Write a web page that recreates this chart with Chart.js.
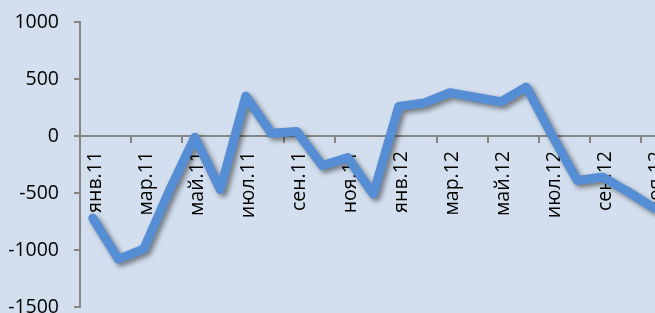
<!DOCTYPE html>
<html>
<head>
<meta charset="utf-8">
<script src="https://cdn.jsdelivr.net/npm/chart.js"></script>
<style>
  html, body { margin: 0; padding: 0; background: #d3dfee; overflow: hidden; }
  #wrap { width: 680px; height: 330px; }
</style>
</head>
<body>
<div id="wrap"><canvas id="chart" width="680" height="330"></canvas></div>
<script>
// months Jan 2011 .. Nov 2012 (the reference is cropped on the right)
const months = [
  'янв.11', 'фев.11', 'мар.11', 'апр.11', 'май.11', 'июн.11',
  'июл.11', 'авг.11', 'сен.11', 'окт.11', 'ноя.11', 'дек.11',
  'янв.12', 'фев.12', 'мар.12', 'апр.12', 'май.12', 'июн.12',
  'июл.12', 'авг.12', 'сен.12', 'окт.12', 'ноя.12'
];
const values = [
  -720, -1080, -990, -480, -10, -470,
  350, 25, 40, -260, -190, -510,
  260, 290, 380, 340, 300, 430,
  10, -390, -360, -490, -630
];
const yTicks = [-1500, -1000, -500, 0, 500, 1000];

const axisGrey = '#868686';
const lineBlue = '#558ed5';
const font = { family: 'Open Sans', size: 19.5 };

// soft drop shadow under the line, like the Excel original
const shadowPlugin = {
  id: 'lineShadow',
  beforeDatasetDraw(chart) {
    const ctx = chart.ctx;
    ctx.save();
    ctx.shadowColor = 'rgba(0,0,0,0.45)';
    ctx.shadowBlur = 5;
    ctx.shadowOffsetX = 3;
    ctx.shadowOffsetY = 3;
  },
  afterDatasetDraw(chart) {
    chart.ctx.restore();
  }
};

new Chart(document.getElementById('chart'), {
  type: 'line',
  data: {
    labels: months,
    datasets: [{
      data: values,
      borderColor: lineBlue,
      borderWidth: 9,
      borderJoinStyle: 'round',
      borderCapStyle: 'round',
      pointRadius: 0,
      tension: 0,
      fill: false,
    }]
  },
  options: {
    responsive: false,
    animation: false,
    layout: { padding: { left: 0, top: 22, right: 13.5, bottom: 23 } },
    plugins: { legend: { display: false }, tooltip: { enabled: false } },
    scales: {
      x: {
        type: 'category',
        offset: true,
        position: { y: 0 },
        afterFit: s => { s.paddingLeft = 0; s.paddingRight = 0; },
        grid: {
          drawOnChartArea: false,
          drawTicks: true,
          tickLength: 6,
          offset: true,
          color: c => (c.index % 2 === 0 ? axisGrey : 'rgba(0,0,0,0)'),
          lineWidth: 2,
        },
        border: { display: true, color: axisGrey, width: 2 },
        ticks: {
          autoSkip: false,
          minRotation: 90,
          maxRotation: 90,
          padding: 9,
          labelOffset: 3,
          color: '#000',
          font,
          callback: (v, i) => (i % 2 === 0 ? months[i] : ''),
        }
      },
      y: {
        min: -1500,
        max: 1000,
        afterBuildTicks: s => { s.ticks = yTicks.map(v => ({ value: v })); },
        afterFit: s => { s.width = 80; s.paddingTop = 0; s.paddingBottom = 0; },
        grid: {
          drawOnChartArea: false,
          drawTicks: true,
          tickLength: 6,
          color: axisGrey,
          lineWidth: 2,
        },
        border: { display: true, color: axisGrey, width: 2 },
        ticks: { color: '#000', font, padding: 15, callback: v => String(v) }
      }
    }
  },
  plugins: [shadowPlugin]
});
</script>
</body>
</html>
